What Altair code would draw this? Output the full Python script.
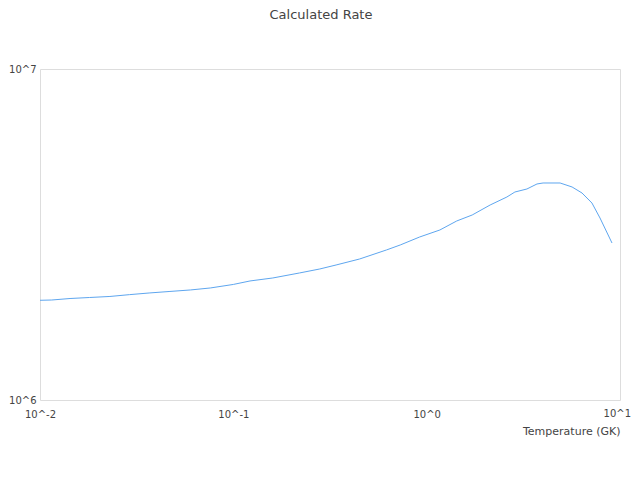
import altair as alt
import pandas as pd

temperature = [0.01, 0.0115, 0.0143, 0.018, 0.023, 0.029, 0.037, 0.047, 0.06, 0.076,
               0.1, 0.122, 0.16, 0.22, 0.28, 0.34, 0.45, 0.62, 0.73, 0.92,
               1.17, 1.43, 1.72, 2.13, 2.6, 2.86, 3.3, 3.72, 4.0, 4.9,
               5.65, 6.36, 7.16, 7.88, 9.09]
rate_e6 = [2.001, 2.005, 2.026, 2.040, 2.055, 2.081, 2.106, 2.128, 2.150, 2.180,
           2.234, 2.289, 2.337, 2.420, 2.488, 2.558, 2.667, 2.840, 2.940, 3.108,
           3.263, 3.474, 3.622, 3.883, 4.105, 4.250, 4.340, 4.494, 4.525, 4.525,
           4.401, 4.221, 3.937, 3.547, 2.981]
x_ticks = [0.01, 0.1, 1, 10]
y_ticks = [1e6, 1e7]
last_x_tick = [10]
last_x_label = ["10^1"]

df = pd.DataFrame({"T": temperature, "rate": [r * 1e6 for r in rate_e6]})
df_last = pd.DataFrame({"T": last_x_tick, "label": last_x_label})

text_color = "#444444"
font = "DejaVu Sans"

x_scale = alt.Scale(type="log", domain=[0.01, 10], nice=False)
y_scale = alt.Scale(type="log", domain=[1e6, 1e7], nice=False)

line = alt.Chart(df).mark_line(color="#5ea6ef", strokeWidth=1).encode(
    x=alt.X("T:Q", scale=x_scale,
            axis=alt.Axis(values=x_ticks, grid=False, domain=False, ticks=False, tickSize=0,
                          labelExpr="datum.value >= 10 ? '' : '10^' + round(log(datum.value)/LN10)",
                          labelFlush=False,
                          labelPadding=9, labelFontSize=10, labelColor=text_color, labelFont=font,
                          title="Temperature (GK)", titleAnchor="end", titleFontWeight="normal",
                          titleFontSize=11, titleColor=text_color, titleFont=font, titlePadding=6)),
    y=alt.Y("rate:Q", scale=y_scale,
            axis=alt.Axis(values=y_ticks, grid=False, domain=False, ticks=False, tickSize=0,
                          labelExpr="'10^' + round(log(datum.value)/LN10)",
                          labelFlush=False, labelBaseline="middle",
                          labelPadding=4, labelFontSize=10, labelColor=text_color, labelFont=font,
                          title=None)),
)

last_label = alt.Chart(df_last).mark_text(
    align="right", baseline="top", dx=11, fontSize=10, font=font, color=text_color
).encode(
    x=alt.X("T:Q", scale=x_scale),
    y=alt.value(340),
    text="label:N",
)

chart = alt.layer(line, last_label).properties(
    width=580,
    height=331,
    title=alt.TitleParams("Calculated Rate", fontSize=13, fontWeight="normal", color=text_color,
                          font=font, anchor="middle", dx=-9, offset=29, baseline="bottom"),
    autosize=alt.AutoSizeParams(type="none"),
    padding={"left": 32, "top": 61, "right": 12, "bottom": 60},
).configure_view(stroke="#dddddd", strokeWidth=1)

chart.save("out.html", embed_options={"renderer": "svg", "actions": False})
